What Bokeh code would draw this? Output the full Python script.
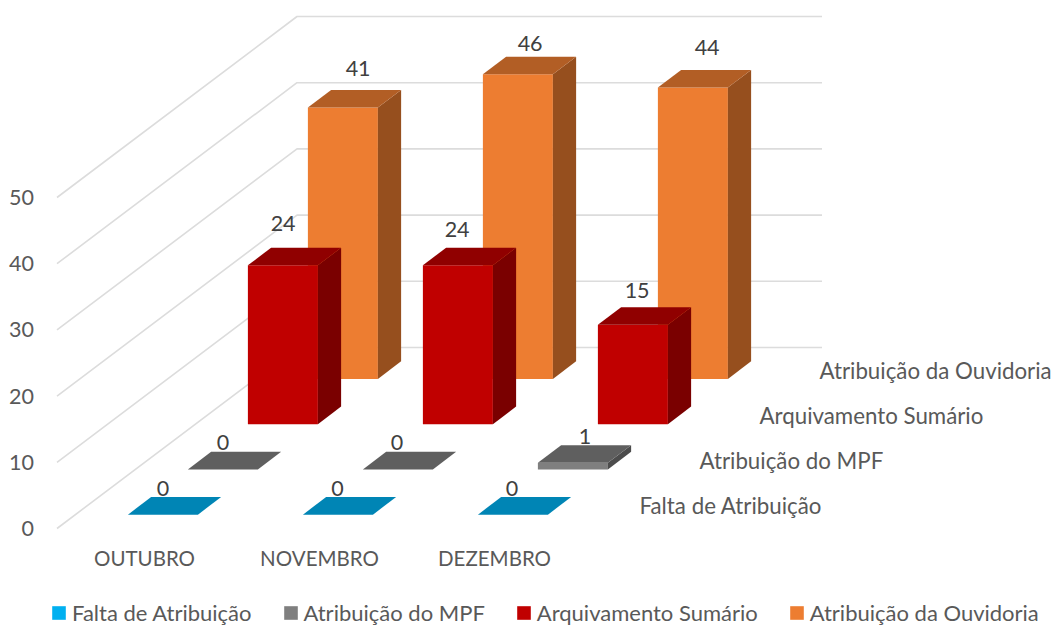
from bokeh.plotting import figure
from bokeh.models import ColumnDataSource, Range1d, LinearAxis, FixedTicker, Legend, LegendItem
from bokeh.core.properties import value
from bokeh.embed import file_html
from bokeh.resources import INLINE

categories = ["OUTUBRO", "NOVEMBRO", "DEZEMBRO"]
series_names = ["Falta de Atribuição", "Atribuição do MPF", "Arquivamento Sumário", "Atribuição da Ouvidoria"]
falta = [0, 0, 0]
mpf = [0, 0, 1]
arquivamento = [24, 24, 15]
ouvidoria = [41, 46, 44]
value_ticks = [0, 10, 20, 30, 40, 50]

series_values = [falta, mpf, arquivamento, ouvidoria]
front_colors = ["#00B0F0", "#7F7F7F", "#C00000", "#ED7D31"]
top_colors = ["#0085B5", "#5F5F5F", "#900000", "#B25E25"]
side_colors = ["#006F97", "#4C4C4C", "#7A0000", "#964F1E"]

FONT = "Lato"
TEXT = "#595959"
LABEL = "#404040"

W, H = 1056, 626
PX_PER_CAT = 175.0
PX_PER_VAL = 6.62
ORIGIN_X, ORIGIN_Y = 56.5, 528.0      # front-left floor corner on the page
DEPTH_X, DEPTH_Y = 240.0, 181.0       # page shift across the whole depth
BAR_W, BAR_D = 0.4, 0.387


def proj(cat, depth, val):
    """Oblique projection: category, depth 0..1 and value into plot data units."""
    return cat + depth * DEPTH_X / PX_PER_CAT, val + depth * DEPTH_Y / PX_PER_VAL


p = figure(width=W, height=H, output_backend="svg", toolbar_location=None,
           x_range=Range1d((0 - ORIGIN_X) / PX_PER_CAT - 0.5, (W - ORIGIN_X) / PX_PER_CAT - 0.5),
           y_range=Range1d((ORIGIN_Y - H) / PX_PER_VAL, (ORIGIN_Y - 0) / PX_PER_VAL),
           min_border=0, outline_line_color=None, background_fill_color="white",
           x_axis_type=None, y_axis_type=None)
p.xgrid.visible = False
p.ygrid.visible = False

# value axis and category axis
yax = LinearAxis(ticker=FixedTicker(ticks=value_ticks), fixed_location=(39.5 - ORIGIN_X) / PX_PER_CAT - 0.5)
xax = LinearAxis(ticker=FixedTicker(ticks=[0, 1, 2]), fixed_location=(ORIGIN_Y - 539) / PX_PER_VAL,
                 major_label_overrides={i: c for i, c in enumerate(categories)})
for ax, fs in ((xax, "20.5px"), (yax, "21.5px")):
    ax.axis_line_color = None
    ax.major_tick_line_color = None
    ax.minor_tick_line_color = None
    ax.major_label_text_font = FONT
    ax.major_label_text_font_size = fs
    ax.major_label_text_color = TEXT
    ax.major_label_standoff = 0
p.add_layout(yax, "left")
p.add_layout(xax, "below")

# floor + back-wall gridlines
gx, gy = [], []
left, right = -0.5, len(categories) - 0.5
for v in value_ticks:
    xs, ys = zip(proj(left, 0, v), proj(left, 1, v), proj(right, 1, v))
    gx.append(list(xs))
    gy.append(list(ys))
p.multi_line(gx, gy, line_color="#DCDCDC", line_width=1.6)

# bars, back series first
legend_items = {}
for s in range(len(series_names) - 1, -1, -1):
    d0 = (s + (1 - BAR_D) / 2) / 4
    d1 = d0 + BAR_D / 4
    fx, fy, tx, ty, sx, sy = [], [], [], [], [], []
    for c, v in enumerate(series_values[s]):
        a, b = c - BAR_W / 2, c + BAR_W / 2
        q = [proj(a, d0, 0), proj(b, d0, 0), proj(b, d0, v), proj(a, d0, v)]
        fx.append([k[0] for k in q]); fy.append([k[1] for k in q])
        q = [proj(a, d0, v), proj(b, d0, v), proj(b, d1, v), proj(a, d1, v)]
        tx.append([k[0] for k in q]); ty.append([k[1] for k in q])
        q = [proj(b, d0, 0), proj(b, d1, 0), proj(b, d1, v), proj(b, d0, v)]
        sx.append([k[0] for k in q]); sy.append([k[1] for k in q])
    front = p.patches(fx, fy, fill_color=front_colors[s], line_color=None)
    p.patches(sx, sy, fill_color=side_colors[s], line_color=None)
    p.patches(tx, ty, fill_color=top_colors[s], line_color=None)
    legend_items[s] = front

# data labels: centred over the bar top, nudged in pixels as in the picture
nudge_x = [[-23, -23.5, -24], [-23, -24, -11], [-23, -24, -19], [-8, -11, -9]]
nudge_y = [[-9, -9, -9], [-9, -9, -9], [-24, -18, -17], [-21, -13, -23]]
for s, vals in enumerate(series_values):
    dm = (s + 0.5) / 4
    xs, ys, txt, xo, yo = [], [], [], [], []
    for c, v in enumerate(vals):
        x, y = proj(c, dm + BAR_D / 8, v)
        xs.append(x); ys.append(y); txt.append(str(v))
        xo.append(nudge_x[s][c]); yo.append(nudge_y[s][c])
    src = ColumnDataSource(dict(x=xs, y=ys, t=txt, xo=xo, yo=yo))
    p.text("x", "y", text="t", source=src, x_offset="xo", y_offset="yo", text_align="center",
           text_baseline="middle", text_font=value(FONT), text_font_size="21.5px", text_color=LABEL)

# depth-axis labels
dx, dy = [], []
for s in range(len(series_names)):
    x, y = proj(right, (s + 0.5) / 4, 0)
    dx.append(x); dy.append(y)
p.text(dx, dy, text=series_names, x_offset=27.5, y_offset=0, text_align="left", text_baseline="middle",
       text_font=value(FONT), text_font_size="22.3px", text_color=TEXT)

legend = Legend(items=[LegendItem(label=series_names[s], renderers=[legend_items[s]]) for s in range(4)],
                orientation="horizontal", location=(50, 0), border_line_color=None,
                background_fill_alpha=0, padding=0, margin=0, spacing=30, label_standoff=5,
                glyph_width=17, glyph_height=17, label_text_font=FONT, label_text_font_size="22px",
                label_text_color=TEXT)
p.add_layout(legend, "center")

open("out.html", "w").write(file_html(p, INLINE))
